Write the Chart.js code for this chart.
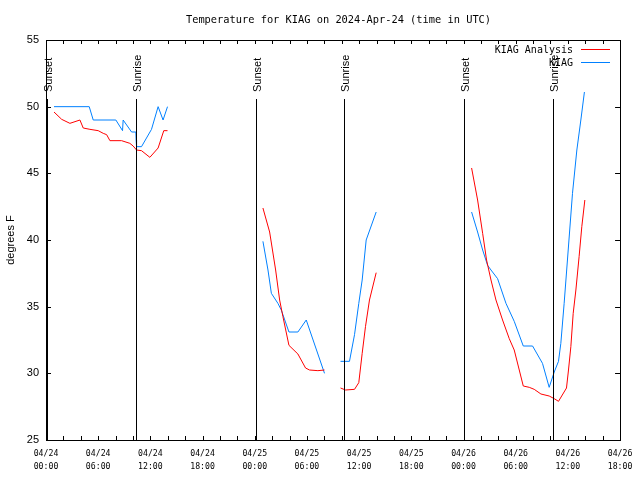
<!DOCTYPE html>
<html>
<head>
<meta charset="utf-8">
<script src="https://cdn.jsdelivr.net/npm/chart.js@4"></script>
<style>
  body { margin: 0; background: #fff; }
  #wrap { width: 640px; height: 480px; }
</style>
</head>
<body>
<div id="wrap"><canvas id="myChart" width="640" height="480"></canvas></div>
<script>
// hours since 2024-04-24 00:00 UTC; null temp breaks the line
const analysisHours = [0.92,1.80,2.75,3.90,4.28,5.05,6.00,6.58,6.97,7.35,8.69,9.64,10.02,10.41,10.98,11.94,12.89,13.54,13.97,
  19,
  24.94,25.71,26.40,26.86,27.24,27.93,28.96,29.84,30.30,31.26,32.02,
  33,
  33.86,34.44,35.47,35.96,36.35,36.73,37.19,37.96,
  43,
  48.93,49.62,50.20,50.65,51.16,51.73,52.49,53.26,53.83,54.41,54.87,55.56,56.13,56.90,57.85,58.43,58.92,59.84,60.07,60.34,60.61,60.92,61.29,61.60,61.95];
const analysisTemps = [49.6,49.05,48.75,49.0,48.4,48.3,48.2,48.0,47.9,47.45,47.45,47.25,47.05,46.75,46.7,46.2,46.9,48.2,48.2,
  null,
  42.4,40.6,37.75,35.5,34.25,32.1,31.45,30.4,30.25,30.2,30.25,
  null,
  28.9,28.75,28.8,29.3,31.5,33.5,35.5,37.55,
  null,
  45.4,43.0,40.5,38.5,37.0,35.5,34.0,32.6,31.75,30.25,29.05,28.95,28.8,28.45,28.3,28.1,27.9,28.9,30.25,32.0,34.5,36.25,38.75,41.0,43.0];

const obsHours = [0.92,4.97,5.43,8.03,8.80,8.87,9.84,10.33,10.36,10.41,10.98,12.13,12.89,13.46,13.97,
  19,
  24.94,25.52,25.91,26.66,27.05,27.93,28.96,29.92,32.02,
  33,
  33.86,34.89,35.47,35.96,36.35,36.81,37.96,
  43,
  48.93,49.62,50.20,50.77,51.16,51.92,52.88,53.83,54.87,55.94,57.08,57.85,58.43,58.92,59.19,59.57,59.95,60.53,61.03,61.49,61.90];
const obsTemps = [50,50,49,49,48.2,49,48.1,48.1,47.5,47.0,47.0,48.3,50,49,50,
  null,
  39.9,37.75,36.0,35.25,34.75,33.1,33.1,34.0,30.0,
  null,
  30.9,30.9,32.9,35.25,37.0,40.0,42.1,
  null,
  42.1,40.6,39.25,38.1,37.75,37.1,35.25,33.9,32.05,32.05,30.75,28.95,30.1,30.9,32.25,35.25,38.5,43.5,46.75,49.0,51.1];

const seriesNames = ['KIAG Analysis', 'KIAG'];
const seriesColors = ['#ff0000', '#0080ff'];

const sunHours = [0.07, 10.31, 24.1, 34.3, 48.07, 58.25];
const sunLabels = ['Sunset', 'Sunrise', 'Sunset', 'Sunrise', 'Sunset', 'Sunrise'];

const xTickHours = [0, 6, 12, 18, 24, 30, 36, 42, 48, 54, 60, 66];
const xTickDates = ['04/24','04/24','04/24','04/24','04/25','04/25','04/25','04/25','04/26','04/26','04/26','04/26'];
const xTickTimes = ['00:00','06:00','12:00','18:00','00:00','06:00','12:00','18:00','00:00','06:00','12:00','18:00'];

const titleText = 'Temperature for KIAG on 2024-Apr-24 (time in UTC)';

function pts(hours, temps) {
  return hours.map((h, i) => ({x: h, y: temps[i]}));
}

const overlay = {
  id: 'overlay',
  afterDatasetsDraw(chart) {
    const ctx = chart.ctx;
    const a = chart.chartArea;
    const xs = chart.scales.x, ys = chart.scales.y;
    ctx.save();
    ctx.strokeStyle = '#000';
    ctx.lineWidth = 1;
    // frame
    ctx.strokeRect(Math.round(a.left) + 0.5, Math.round(a.top) + 0.5, Math.round(a.right - a.left), Math.round(a.bottom - a.top));
    // inward tick marks
    ctx.beginPath();
    for (let h = 0; h <= 66; h += 2) {
      const px = Math.round(xs.getPixelForValue(h)) + 0.5;
      ctx.moveTo(px, a.bottom); ctx.lineTo(px, a.bottom - 4);
      ctx.moveTo(px, a.top); ctx.lineTo(px, a.top + 4);
    }
    for (let v = 25; v <= 55; v += 5) {
      const py = Math.round(ys.getPixelForValue(v)) + 0.5;
      ctx.moveTo(a.left, py); ctx.lineTo(a.left + 5, py);
      ctx.moveTo(a.right, py); ctx.lineTo(a.right - 5, py);
    }
    ctx.stroke();
    // sunrise / sunset lines
    ctx.font = '11px "Liberation Sans", Arial, sans-serif';
    ctx.fillStyle = '#000';
    sunHours.forEach((h, i) => {
      const px = Math.round(xs.getPixelForValue(h)) + 0.5;
      ctx.beginPath();
      ctx.moveTo(px, 99); ctx.lineTo(px, a.bottom);
      ctx.stroke();
      ctx.save();
      ctx.translate(px + 1, 92);
      ctx.rotate(-Math.PI / 2);
      ctx.textAlign = 'left';
      ctx.textBaseline = 'middle';
      ctx.fillText(sunLabels[i], 0, 0);
      ctx.restore();
    });
    // legend
    ctx.font = '10px "DejaVu Sans Mono", monospace';
    ctx.textAlign = 'right';
    ctx.textBaseline = 'middle';
    seriesNames.forEach((n, i) => {
      const y = 50 + i * 13;
      ctx.fillStyle = '#000';
      ctx.fillText(n, 573, y);
      ctx.strokeStyle = seriesColors[i];
      ctx.beginPath();
      ctx.moveTo(581, y - 0.5); ctx.lineTo(610, y - 0.5);
      ctx.stroke();
    });
    // title
    ctx.font = '10.35px "DejaVu Sans Mono", monospace';
    ctx.fillStyle = '#000';
    ctx.textAlign = 'center';
    ctx.fillText(titleText, 338.5, 20);
    ctx.restore();
  }
};

const ctx = document.getElementById('myChart').getContext('2d');
const myChart = new Chart(ctx, {
  type: 'line',
  data: {
    datasets: [{
      label: seriesNames[0],
      data: pts(analysisHours, analysisTemps),
      borderColor: seriesColors[0],
      borderWidth: 1,
      pointRadius: 0,
      tension: 0,
      spanGaps: false
    }, {
      label: seriesNames[1],
      data: pts(obsHours, obsTemps),
      borderColor: seriesColors[1],
      borderWidth: 1,
      pointRadius: 0,
      tension: 0,
      spanGaps: false
    }]
  },
  options: {
    responsive: false,
    animation: false,
    layout: { padding: { left: 0, right: 19, top: 40, bottom: 0 } },
    plugins: {
      legend: { display: false },
      title: { display: false },
      tooltip: { enabled: false }
    },
    scales: {
      x: {
        type: 'linear',
        min: 0,
        max: 66,
        afterFit: s => { s.height = 40; },
        grid: { display: false, drawTicks: false },
        border: { display: false },
        ticks: {
          stepSize: 2,
          autoSkip: false,
          maxRotation: 0,
          minRotation: 0,
          padding: 7.6,
          color: '#000',
          font: { family: '"DejaVu Sans Mono", monospace', size: 8.2, lineHeight: 1.55 },
          callback: v => {
            const i = xTickHours.indexOf(v);
            return i < 0 ? '' : [xTickDates[i], xTickTimes[i]];
          }
        }
      },
      y: {
        min: 25,
        max: 55,
        afterFit: s => { s.width = 46; },
        grid: { display: false, drawTicks: false },
        border: { display: false },
        ticks: {
          stepSize: 5,
          padding: 7,
          color: '#000',
          font: { family: '"Liberation Sans", Arial, sans-serif', size: 11 }
        },
        title: {
          display: true,
          text: 'degrees F',
          color: '#000',
          font: { family: '"Liberation Sans", Arial, sans-serif', size: 11 },
          padding: { top: 4, bottom: 0 }
        }
      }
    }
  },
  plugins: [overlay]
});
</script>
</body>
</html>
